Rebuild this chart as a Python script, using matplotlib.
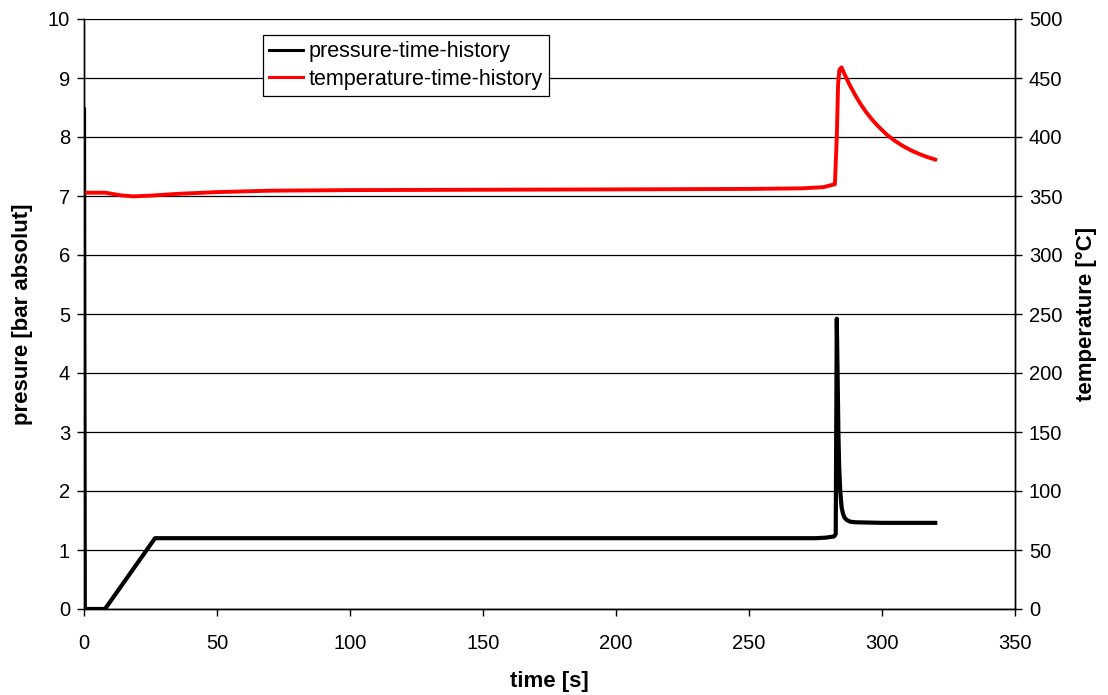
import matplotlib
matplotlib.use("Agg")
import matplotlib.pyplot as plt

plt.rcParams['font.family'] = ['Liberation Sans', 'DejaVu Sans']

# pressure-time-history (time [s], pressure [bar absolut])
p_time = [0, 0.3, 7.9, 26.7, 50, 100, 150, 200, 250, 275, 279, 282.0, 282.6,
          283.0, 283.3, 283.6, 283.9, 284.3, 284.8, 285.3, 285.9, 286.7, 288,
          290, 300, 320]
p_value = [8.47, 0.0, 0.0, 1.2, 1.2, 1.2, 1.2, 1.2, 1.2, 1.2, 1.21, 1.23, 1.27,
           4.92, 4.0, 3.0, 2.4, 2.0, 1.73, 1.62, 1.55, 1.51, 1.48,
           1.47, 1.46, 1.46]

# temperature-time-history (time [s], temperature [°C])
t_time = [0, 8, 14, 18.4, 25, 35, 50, 70, 100, 150, 200, 250, 270, 278, 282.3,
          283.0, 283.5, 284.0, 284.8, 285.5, 286.5, 288, 290, 292, 294, 296,
          298, 300, 302, 305, 308, 311, 314, 317, 320]
t_value = [352.8, 352.8, 350.5, 349.7, 350.3, 351.8, 353.3, 354.5, 355.0,
           355.3, 355.6, 356.0, 356.5, 357.5, 360.0,
           400, 445, 457, 459, 455.3, 450.4, 443.5, 435.2, 427.7, 421.2, 415.5,
           410.4, 405.9, 401.6, 396.5, 392.2, 388.6, 385.6, 383.0, 380.9]

x_ticks = [0, 50, 100, 150, 200, 250, 300, 350]
p_ticks = list(range(0, 11))
t_ticks = list(range(0, 501, 50))

fig = plt.figure(figsize=(11.08, 6.95), dpi=100)
ax = fig.add_axes([84 / 1108, 86 / 695, 931 / 1108, 590 / 695])
ax2 = ax.twinx()

lp, = ax.plot(p_time, p_value, color='black', lw=3.0, solid_joinstyle='round',
              label='pressure-time-history')
lt, = ax2.plot(t_time, t_value, color='#ff0000', lw=2.8, solid_joinstyle='round',
               label='temperature-time-history')

ax.set_xlim(0, 350)
ax.set_ylim(0, 10)
ax2.set_ylim(0, 500)
ax.set_xticks(x_ticks)
ax.set_yticks(p_ticks)
ax2.set_yticks(t_ticks)
ax.yaxis.grid(True, color='black', lw=0.9)
ax.set_axisbelow(True)

for a in (ax, ax2):
    a.tick_params(direction='out', length=5, width=1, labelsize=14.5, pad=5)
    for s in a.spines.values():
        s.set_linewidth(1.0)
    a.spines['top'].set_visible(False)
ax.tick_params(axis='x', pad=13)

ax.set_xlabel('time [s]', fontsize=16, fontweight='bold', labelpad=13)
ax.set_ylabel('presure [bar absolut]', fontsize=16, fontweight='bold', labelpad=11)
ax2.set_ylabel('temperature [°C]', fontsize=16, fontweight='bold', labelpad=10)

leg = ax2.legend(handles=[lp, lt], loc='upper left', bbox_to_anchor=(179 / 931, 1 - 16 / 590),
                 fontsize=15.5, frameon=True, fancybox=False, framealpha=1,
                 edgecolor='black', handlelength=1.55, handletextpad=0.25,
                 borderpad=0.3, labelspacing=0.3, borderaxespad=0)
leg.get_frame().set_linewidth(0.9)
for line in leg.get_lines():
    line.set_linewidth(2.2)

fig.savefig('out.png', dpi=100)
